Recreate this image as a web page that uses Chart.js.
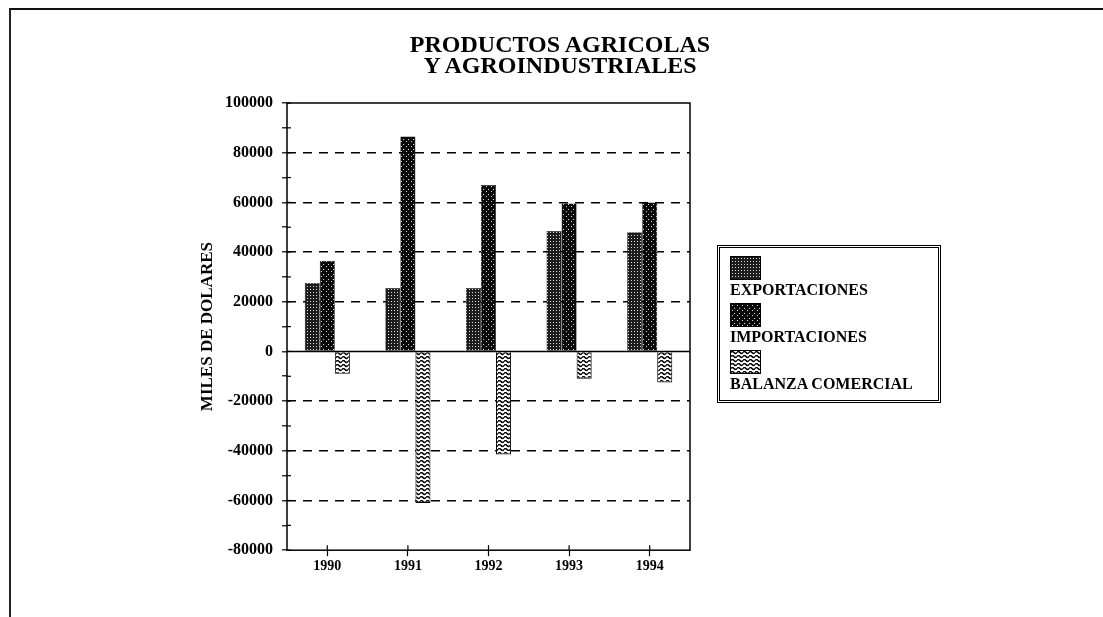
<!DOCTYPE html>
<html>
<head>
<meta charset="utf-8">
<script src="https://cdn.jsdelivr.net/npm/chart.js@4.4.1/dist/chart.umd.min.js"></script>
<style>
  html, body { margin: 0; padding: 0; background: #fff; }
  body { width: 1103px; height: 617px; position: relative; overflow: hidden; font-family: "Liberation Serif", "Times New Roman", serif; }
  #frame { position: absolute; left: 9px; top: 8px; width: 1100px; height: 620px; border-top: 2px solid #111; border-left: 2px solid #222; }
  #wrap { position: absolute; left: 0; top: 0; width: 1103px; height: 617px; }
  #title { position: absolute; left: 330px; width: 460px; top: 34px; text-align: center; font-weight: bold; font-size: 24px; line-height: 21px; color: #000; }
  #legend { position: absolute; left: 717px; top: 245px; width: 224px; height: 158px; border: 3px double #000; box-sizing: border-box; padding: 8px 0 0 10px; }
  #legend .item { height: 47px; }
  #legend canvas { display: block; border: 1px solid #000; }
  #legend .lbl { font-weight: bold; font-size: 16px; line-height: 19px; color: #000; white-space: nowrap; }
</style>
</head>
<body>
<div id="frame"></div>
<div id="wrap"><canvas id="myChart"></canvas></div>
<div id="title">PRODUCTOS AGRICOLAS<br>Y AGROINDUSTRIALES</div>
<div id="legend"></div>
<script>
// datos (miles de dolares)
var years = ["1990", "1991", "1992", "1993", "1994"];
var exportaciones = [27500, 25500, 25500, 48500, 48000];
var importaciones = [36500, 86500, 67000, 59500, 60000];
var balanza = [-9000, -61000, -41500, -11000, -12500];
var seriesNames = ["EXPORTACIONES", "IMPORTACIONES", "BALANZA COMERCIAL"];
var yTicks = [100000, 80000, 60000, 40000, 20000, 0, -20000, -40000, -60000, -80000];

// patterns like the old print hatches
function dotPattern(bg, dots, size) {
    var c = document.createElement('canvas');
    c.width = size; c.height = size;
    var g = c.getContext('2d');
    g.fillStyle = bg;
    g.fillRect(0, 0, size, size);
    g.fillStyle = '#ddd';
    dots.forEach(function (d) { g.fillRect(d[0], d[1], 1, 1); });
    return c;
}
function wavePattern() {
    var c = document.createElement('canvas');
    c.width = 6; c.height = 4;
    var g = c.getContext('2d');
    g.fillStyle = '#fff';
    g.fillRect(0, 0, 6, 4);
    g.strokeStyle = '#000';
    g.lineWidth = 1.4;
    g.beginPath();
    g.moveTo(0, 1.5);
    g.quadraticCurveTo(1.5, -0.5, 3, 1.5);
    g.quadraticCurveTo(4.5, 3.5, 6, 1.5);
    g.stroke();
    return c;
}
var ctx = document.getElementById('myChart').getContext('2d');
var tiles = [
    dotPattern('#1c1c1c', [[1, 1]], 3),
    dotPattern('#080808', [[1, 1], [3, 4]], 5),
    wavePattern()
];
var fills = tiles.map(function (t) { return ctx.createPattern(t, 'repeat'); });

// plot box, zero line and inner half of the tick marks
var boxPlugin = {
    id: 'box',
    afterDatasetsDraw: function (chart) {
        var a = chart.chartArea, y = chart.scales.y, x = chart.scales.x, c = chart.ctx;
        c.save();
        c.strokeStyle = '#000';
        c.lineWidth = 1.5;
        c.strokeRect(a.left, a.top, a.right - a.left, a.bottom - a.top);
        var z = y.getPixelForValue(0);
        c.beginPath(); c.moveTo(a.left, z); c.lineTo(a.right, z); c.stroke();
        c.lineWidth = 1.2;
        y.ticks.forEach(function (t) {
            var p = y.getPixelForValue(t.value);
            c.beginPath(); c.moveTo(a.left, p); c.lineTo(a.left + 4, p); c.stroke();
        });
        x.ticks.forEach(function (t, i) {
            var p = x.getPixelForTick(i);
            c.beginPath(); c.moveTo(p, a.bottom); c.lineTo(p, a.bottom - 5); c.stroke();
        });
        c.restore();
    }
};

var dataSets = [exportaciones, importaciones, balanza];
var myChart = new Chart(ctx, {
    type: 'bar',
    data: {
        labels: years,
        datasets: dataSets.map(function (d, i) {
            return {
                label: seriesNames[i],
                data: d,
                backgroundColor: fills[i],
                borderColor: '#000',
                borderWidth: i === 2 ? 1 : 0.5,
                barPercentage: 1.0,
                categoryPercentage: 0.56
            };
        })
    },
    options: {
        responsive: true,
        maintainAspectRatio: false,
        animation: false,
        layout: { padding: { left: 195, right: 413, top: 103, bottom: 40 } },
        plugins: {
            legend: { display: false },
            tooltip: { enabled: false }
        },
        scales: {
            x: {
                grid: { display: true, drawOnChartArea: false, offset: false, tickLength: 6, tickColor: '#000', tickWidth: 1.2 },
                border: { display: false },
                ticks: { color: '#000', padding: 2, font: { family: 'Liberation Serif', weight: 'bold', size: 14 } }
            },
            y: {
                min: -80000,
                max: 100000,
                afterFit: function (s) { s.width = 92; },
                afterBuildTicks: function (s) {
                    var t = [];
                    for (var v = -80000; v <= 100000; v += 10000) t.push({ value: v });
                    s.ticks = t;
                },
                border: { display: false, dash: [9, 7] },
                grid: {
                    color: function (c) {
                        var v = c.tick ? c.tick.value : 0;
                        if (v === 0 || v === 100000 || v === -80000 || v % 20000 !== 0) return 'rgba(0,0,0,0)';
                        return '#000';
                    },
                    lineWidth: 1.6,
                    tickLength: 5,
                    tickColor: '#000',
                    tickWidth: 1.2
                },
                ticks: {
                    color: '#000',
                    padding: 9,
                    autoSkip: false,
                    font: { family: 'Liberation Serif', weight: 'bold', size: 16 },
                    callback: function (v) { return yTicks.indexOf(v) >= 0 ? String(v) : ''; }
                },
                title: {
                    display: true,
                    text: 'MILES DE DOLARES',
                    color: '#000',
                    padding: { top: 2, bottom: 0 },
                    font: { family: 'Liberation Serif', weight: 'bold', size: 17 }
                }
            }
        }
    },
    plugins: [boxPlugin]
});

// legend: swatch above its label, as in the original
var leg = document.getElementById('legend');
seriesNames.forEach(function (n, i) {
    var item = document.createElement('div');
    item.className = 'item';
    var sw = document.createElement('canvas');
    sw.width = 29; sw.height = 22;
    var g = sw.getContext('2d');
    g.fillStyle = g.createPattern(tiles[i], 'repeat');
    g.fillRect(0, 0, 29, 22);
    var lb = document.createElement('div');
    lb.className = 'lbl';
    lb.textContent = n;
    item.appendChild(sw);
    item.appendChild(lb);
    leg.appendChild(item);
});
</script>
</body>
</html>
